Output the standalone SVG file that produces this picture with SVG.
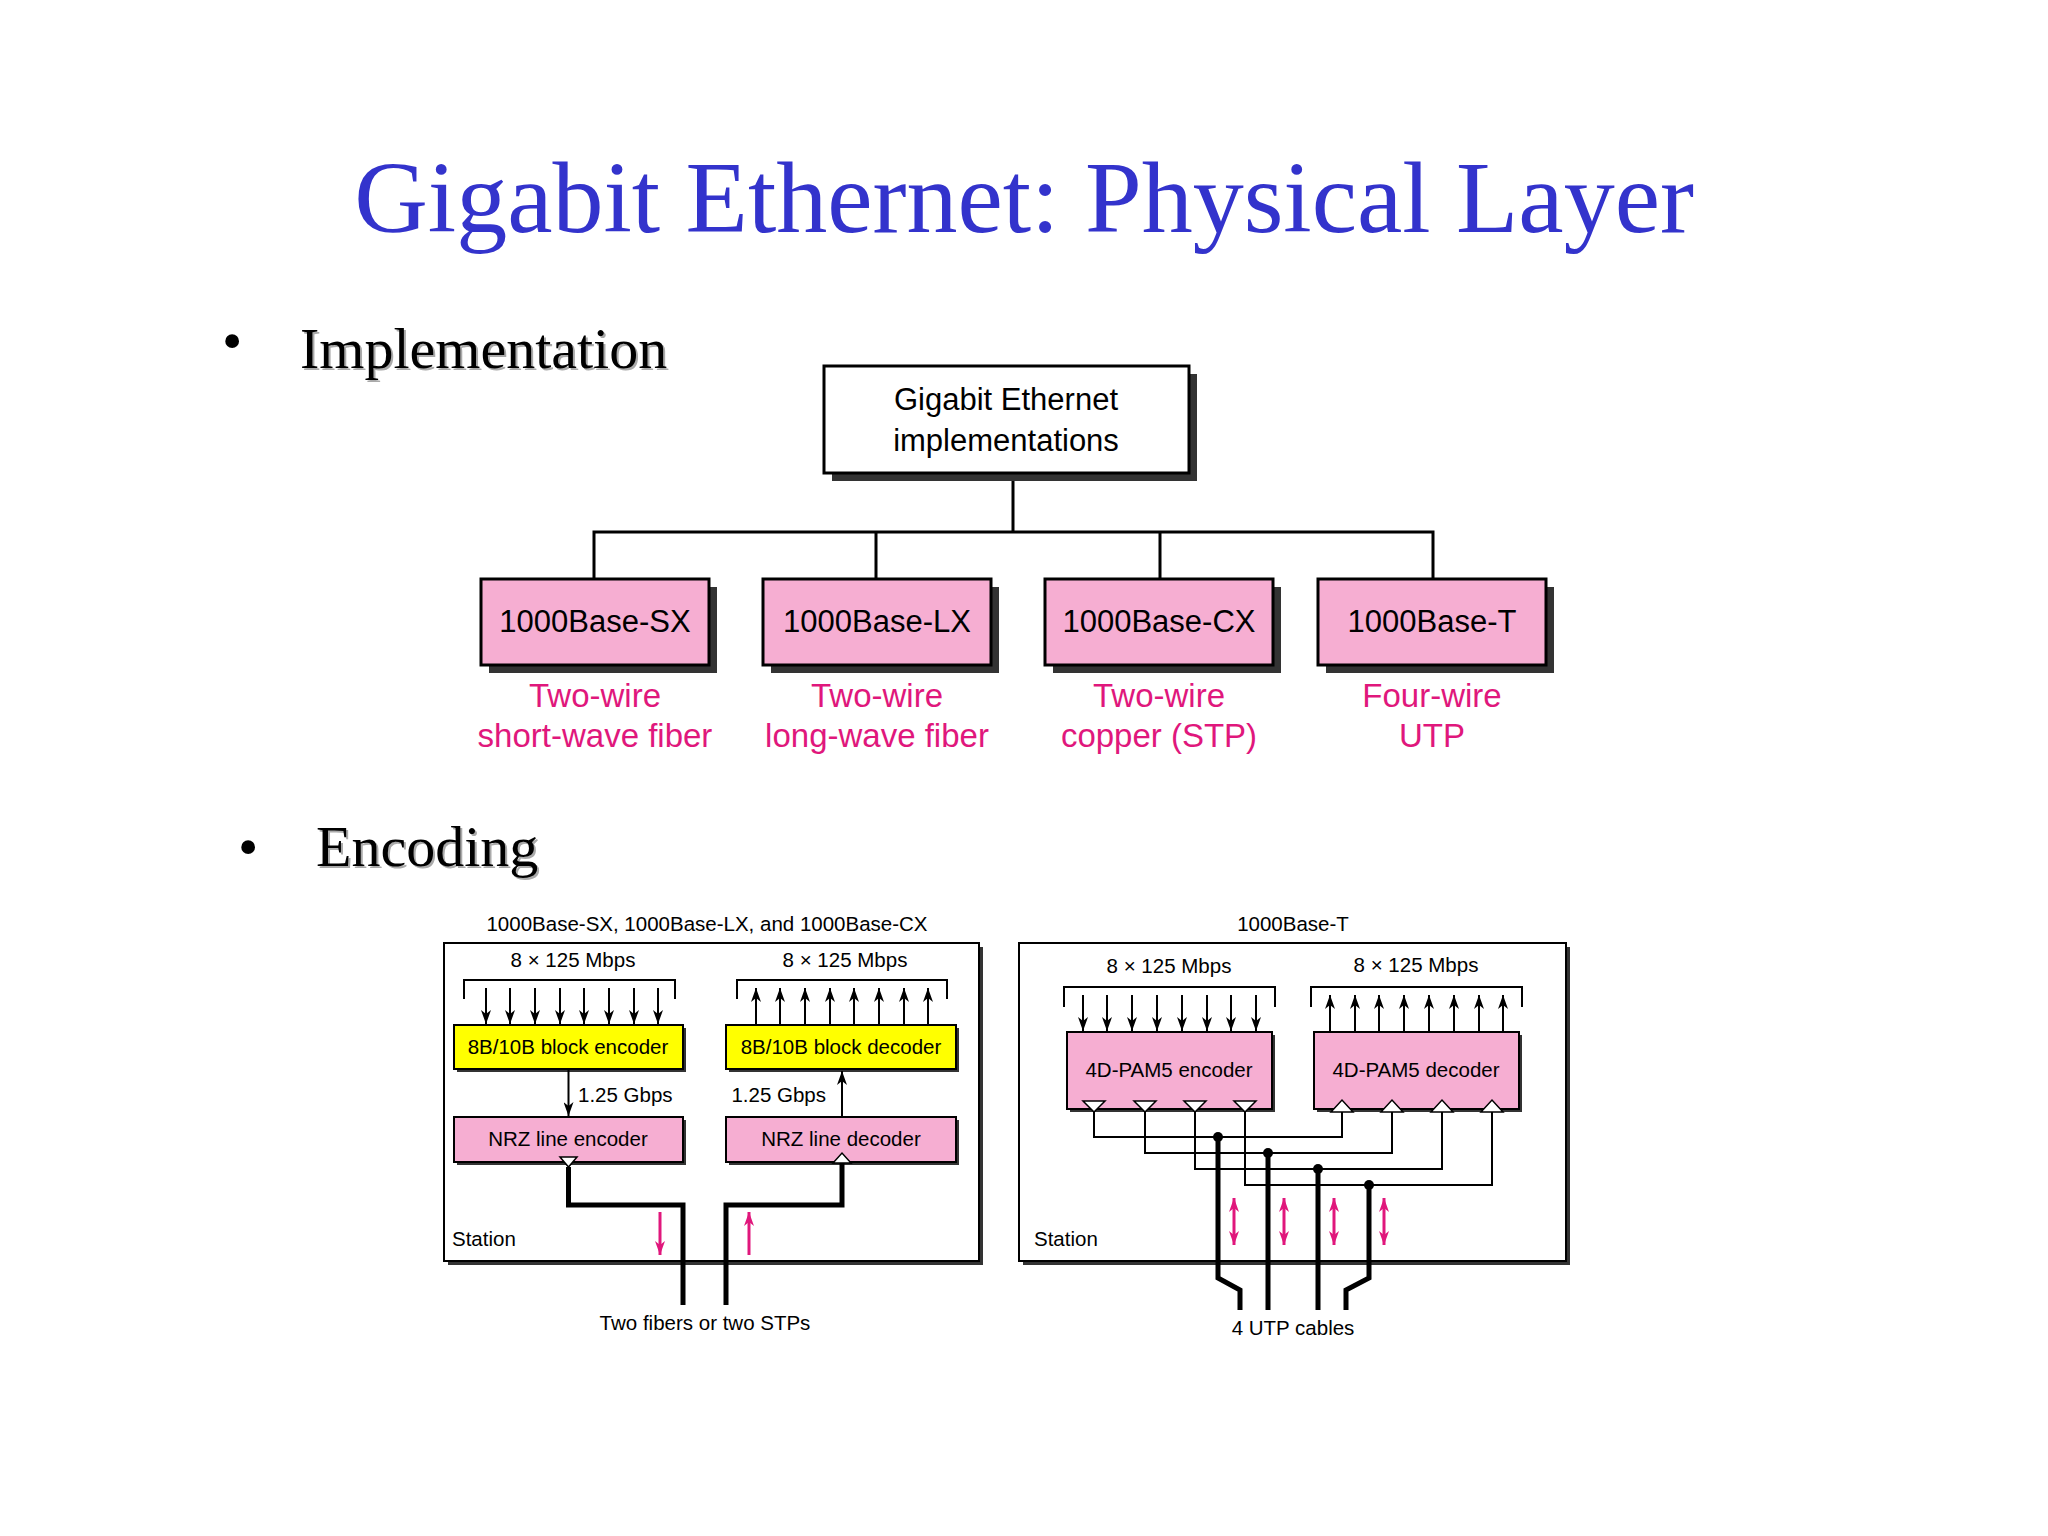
<svg xmlns="http://www.w3.org/2000/svg" width="2048" height="1536" viewBox="0 0 2048 1536">
<style>
.t{font-family:"Liberation Sans","DejaVu Sans",sans-serif;fill:#000}
.s{font-size:20.5px}
.m{font-size:31px}
.lab{font-family:"Liberation Sans",sans-serif;font-size:33px;fill:#e0177c;text-anchor:middle}
.pink{fill:#f6aed2;stroke:#000;stroke-width:2}
.yel{fill:#ffff00;stroke:#000;stroke-width:2}
.sh{fill:#333}
.thin{fill:none;stroke:#000;stroke-width:2}
.thick{fill:none;stroke:#000;stroke-width:5}
.ser{font-family:"Liberation Serif","Times New Roman",serif}
</style>
<defs>
<marker id="ahd" viewBox="0 0 14 10" refX="14" refY="5" markerWidth="14" markerHeight="10" orient="auto" markerUnits="userSpaceOnUse"><path d="M0,0 L14,5 L0,10 L4,5 Z" fill="#000"/></marker>
<marker id="mh" viewBox="0 0 14 10" refX="14" refY="5" markerWidth="14" markerHeight="10" orient="auto-start-reverse" markerUnits="userSpaceOnUse"><path d="M0,0 L14,5 L0,10 L4,5 Z" fill="#e0177c"/></marker>
</defs>
<rect width="2048" height="1536" fill="#fff"/>
<text class="ser" x="1024" y="232" font-size="102" fill="#3333cc" text-anchor="middle">Gigabit Ethernet: Physical Layer</text>
<g class="ser" font-size="58">
<text x="222" y="360">•</text>
<text x="302" y="370" fill="#aaa">Implementation</text>
<text x="300" y="368">Implementation</text>
<text x="238" y="866">•</text>
<text x="318" y="868" fill="#aaa">Encoding</text>
<text x="316" y="866">Encoding</text>
</g>
<g id="connectors-tree" class="thin" style="stroke-width:3">
<path d="M1013,473 V532 M594,579 V532 H1433 V579 M876,532 V579 M1160,532 V579"/>
</g>
<g id="root">
<rect x="832" y="374" width="365" height="107" class="sh"/>
<rect x="824" y="366" width="365" height="107" fill="#fff" stroke="#000" stroke-width="3"/>
<text class="t m" x="1006" y="410" text-anchor="middle">Gigabit Ethernet</text>
<text class="t m" x="1006" y="451" text-anchor="middle">implementations</text>
</g>
<g id="sx"><rect x="489" y="587" width="228" height="86" class="sh"/><rect x="481" y="579" width="228" height="86" class="pink" style="stroke-width:3"/><text class="t m" x="595" y="632" text-anchor="middle">1000Base-SX</text><text class="lab" x="595" y="707">Two-wire</text><text class="lab" x="595" y="747">short-wave fiber</text></g>
<g id="lx"><rect x="771" y="587" width="228" height="86" class="sh"/><rect x="763" y="579" width="228" height="86" class="pink" style="stroke-width:3"/><text class="t m" x="877" y="632" text-anchor="middle">1000Base-LX</text><text class="lab" x="877" y="707">Two-wire</text><text class="lab" x="877" y="747">long-wave fiber</text></g>
<g id="cx"><rect x="1053" y="587" width="228" height="86" class="sh"/><rect x="1045" y="579" width="228" height="86" class="pink" style="stroke-width:3"/><text class="t m" x="1159" y="632" text-anchor="middle">1000Base-CX</text><text class="lab" x="1159" y="707">Two-wire</text><text class="lab" x="1159" y="747">copper (STP)</text></g>
<g id="t"><rect x="1326" y="587" width="228" height="86" class="sh"/><rect x="1318" y="579" width="228" height="86" class="pink" style="stroke-width:3"/><text class="t m" x="1432" y="632" text-anchor="middle">1000Base-T</text><text class="lab" x="1432" y="707">Four-wire</text><text class="lab" x="1432" y="747">UTP</text></g>

<!-- left panel -->
<g id="panel-left">
<rect x="448" y="947" width="535" height="318" class="sh"/>
<rect x="444" y="943" width="535" height="318" fill="#fff" stroke="#000" stroke-width="2"/>
<text class="t s" x="707" y="931" text-anchor="middle">1000Base-SX, 1000Base-LX, and 1000Base-CX</text>
<text class="t s" x="573" y="967" text-anchor="middle">8 × 125 Mbps</text>
<text class="t s" x="845" y="967" text-anchor="middle">8 × 125 Mbps</text>
<text class="t s" x="452" y="1246">Station</text>
<text class="t s" x="705" y="1330" text-anchor="middle">Two fibers or two STPs</text>
</g>
<g id="enc8b"><rect x="457" y="1028" width="229" height="44" class="sh"/><rect x="454" y="1025" width="229" height="44" class="yel"/><text class="t s" x="568" y="1054" text-anchor="middle">8B/10B block encoder</text></g>
<g id="dec8b"><rect x="729" y="1028" width="230" height="44" class="sh"/><rect x="726" y="1025" width="230" height="44" class="yel"/><text class="t s" x="841" y="1054" text-anchor="middle">8B/10B block decoder</text></g>
<g id="nrzenc"><rect x="457" y="1120" width="229" height="45" class="sh"/><rect x="454" y="1117" width="229" height="45" class="pink"/><text class="t s" x="568" y="1146" text-anchor="middle">NRZ line encoder</text><path d="M560,1157 H577 L568.5,1167 Z" fill="#fff" stroke="#000" stroke-width="1.5"/></g>
<g id="nrzdec"><rect x="729" y="1120" width="230" height="45" class="sh"/><rect x="726" y="1117" width="230" height="45" class="pink"/><text class="t s" x="841" y="1146" text-anchor="middle">NRZ line decoder</text><path d="M833,1163 H851 L842,1153 Z" fill="#fff" stroke="#000" stroke-width="1.5"/></g>
<g id="connectors-left">
<path class="thin" d="M464,999 V980 H675 V999 M737,999 V980 H947 V999"/>
<g stroke="#000" stroke-width="2" marker-end="url(#ahd)">
<path d="M486,988 V1024"/><path d="M510,988 V1024"/><path d="M535,988 V1024"/><path d="M560,988 V1024"/><path d="M584,988 V1024"/><path d="M609,988 V1024"/><path d="M634,988 V1024"/><path d="M658,988 V1024"/>
<path d="M756,1024 V988"/><path d="M780,1024 V988"/><path d="M805,1024 V988"/><path d="M830,1024 V988"/><path d="M854,1024 V988"/><path d="M879,1024 V988"/><path d="M904,1024 V988"/><path d="M928,1024 V988"/>
<path d="M568.5,1069 V1116"/><path d="M842,1117 V1071"/>
</g>
<text class="t s" x="578" y="1102">1.25 Gbps</text>
<text class="t s" x="826" y="1102" text-anchor="end">1.25 Gbps</text>
<path class="thick" d="M568.5,1167 V1205 H683 V1305 M842,1163 V1205 H726 V1305"/>
<g stroke="#e0177c" stroke-width="3"><path d="M660,1212 V1255" marker-end="url(#mh)"/><path d="M749,1255 V1212" marker-end="url(#mh)"/></g>
</g>

<!-- right panel -->
<g id="panel-right">
<rect x="1023" y="947" width="547" height="318" class="sh"/>
<rect x="1019" y="943" width="547" height="318" fill="#fff" stroke="#000" stroke-width="2"/>
<text class="t s" x="1293" y="931" text-anchor="middle">1000Base-T</text>
<text class="t s" x="1169" y="973" text-anchor="middle">8 × 125 Mbps</text>
<text class="t s" x="1416" y="972" text-anchor="middle">8 × 125 Mbps</text>
<text class="t s" x="1034" y="1246">Station</text>
<text class="t s" x="1293" y="1335" text-anchor="middle">4 UTP cables</text>
</g>
<g id="pamenc"><rect x="1070" y="1035" width="205" height="77" class="sh"/><rect x="1067" y="1032" width="205" height="77" class="pink"/><text class="t s" x="1169" y="1077" text-anchor="middle">4D-PAM5 encoder</text>
<g fill="#fff" stroke="#000" stroke-width="1.5"><path d="M1083,1101 H1105 L1094,1112 Z"/><path d="M1134,1101 H1156 L1145,1112 Z"/><path d="M1184,1101 H1206 L1195,1112 Z"/><path d="M1234,1101 H1256 L1245,1112 Z"/></g></g>
<g id="pamdec"><rect x="1317" y="1035" width="205" height="77" class="sh"/><rect x="1314" y="1032" width="205" height="77" class="pink"/><text class="t s" x="1416" y="1077" text-anchor="middle">4D-PAM5 decoder</text>
<g fill="#fff" stroke="#000" stroke-width="1.5"><path d="M1331,1112 H1353 L1342,1100 Z"/><path d="M1381,1112 H1403 L1392,1100 Z"/><path d="M1431,1112 H1453 L1442,1100 Z"/><path d="M1481,1112 H1503 L1492,1100 Z"/></g></g>
<g id="connectors-right">
<path class="thin" d="M1064,1007 V987 H1275 V1007 M1311,1007 V987 H1522 V1007"/>
<g stroke="#000" stroke-width="2" marker-end="url(#ahd)">
<path d="M1083,995 V1031"/><path d="M1107,995 V1031"/><path d="M1132,995 V1031"/><path d="M1157,995 V1031"/><path d="M1182,995 V1031"/><path d="M1207,995 V1031"/><path d="M1231,995 V1031"/><path d="M1256,995 V1031"/>
<path d="M1330,1032 V995"/><path d="M1355,1032 V995"/><path d="M1379,1032 V995"/><path d="M1404,1032 V995"/><path d="M1429,1032 V995"/><path d="M1454,1032 V995"/><path d="M1479,1032 V995"/><path d="M1503,1032 V995"/>
</g>
<path class="thin" d="M1094,1112 V1137 H1342 V1112 M1145,1112 V1153 H1392 V1112 M1195,1112 V1169 H1442 V1112 M1245,1112 V1185 H1492 V1112"/>
<g fill="#000"><circle cx="1218" cy="1137" r="5"/><circle cx="1268" cy="1153" r="5"/><circle cx="1318" cy="1169" r="5"/><circle cx="1369" cy="1185" r="5"/></g>
<path class="thick" d="M1218,1137 V1278 L1240,1290 V1310 M1268,1153 V1310 M1318,1169 V1310 M1369,1185 V1278 L1346,1290 V1310"/>
<g stroke="#e0177c" stroke-width="3" marker-start="url(#mh)" marker-end="url(#mh)"><path d="M1234,1198 V1245"/><path d="M1284,1198 V1245"/><path d="M1334,1198 V1245"/><path d="M1384,1198 V1245"/></g>
</g>
</svg>
